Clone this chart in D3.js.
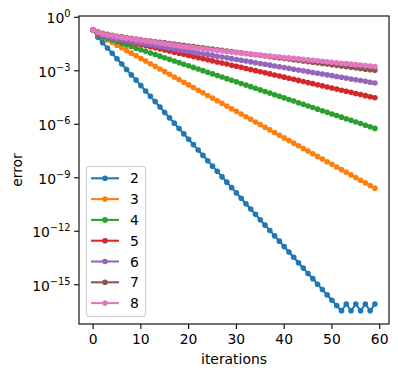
<!DOCTYPE html>
<html>
<head>
<meta charset="utf-8">
<script src="https://cdn.jsdelivr.net/npm/d3@7"></script>
<style>
  body { margin: 0; background: #fff; }
  svg { display: block; }
  text { font-family: "DejaVu Sans", sans-serif; fill: #000; }
</style>
</head>
<body>
<svg class="chart" width="398" height="377"></svg>
<script>
// iteration index 0..59, one error value per iteration for each series
var iterations = d3.range(0, 60);

var seriesNames = ['2', '3', '4', '5', '6', '7', '8'];
var seriesColors = ['#1f77b4', '#ff7f0e', '#2ca02c', '#d62728', '#9467bd', '#8c564b', '#e377c2'];

var error2 = [
  1.95e-1, 7.6e-2, 3.8e-2, 1.9e-2, 9.5e-3, 4.75e-3, 2.4e-3, 1.19e-3, 5.9e-4, 3.0e-4,
  1.48e-4, 7.4e-5, 3.7e-5, 1.86e-5, 9.3e-6, 4.6e-6, 2.3e-6, 1.16e-6, 5.8e-7, 2.9e-7,
  1.45e-7, 7.2e-8, 3.6e-8, 1.8e-8, 9.1e-9, 4.5e-9, 2.3e-9, 1.13e-9, 5.7e-10, 2.8e-10,
  1.42e-10, 7.1e-11, 3.5e-11, 1.77e-11, 8.9e-12, 4.4e-12, 2.2e-12, 1.11e-12, 5.5e-13, 2.8e-13,
  1.38e-13, 6.9e-14, 3.5e-14, 1.73e-14, 8.6e-15, 4.3e-15, 2.2e-15, 1.08e-15, 5.4e-16, 2.7e-16,
  1.35e-16, 6.8e-17, 3.5e-17, 8.3e-17, 3.5e-17, 8.3e-17, 3.5e-17, 8.3e-17, 3.5e-17, 8.3e-17
];

var error3 = [
  1.95e-1, 1.072e-1, 7.62e-2, 5.41e-2, 3.84e-2, 2.73e-2, 1.94e-2, 1.38e-2, 9.79e-3, 6.96e-3,
  4.94e-3, 3.51e-3, 2.49e-3, 1.77e-3, 1.26e-3, 8.94e-4, 6.35e-4, 4.51e-4, 3.20e-4, 2.28e-4,
  1.62e-4, 1.15e-4, 8.16e-5, 5.80e-5, 4.12e-5, 2.93e-5, 2.08e-5, 1.48e-5, 1.05e-5, 7.46e-6,
  5.30e-6, 3.76e-6, 2.67e-6, 1.90e-6, 1.35e-6, 9.59e-7, 6.81e-7, 4.84e-7, 3.44e-7, 2.44e-7,
  1.73e-7, 1.23e-7, 8.75e-8, 6.22e-8, 4.42e-8, 3.14e-8, 2.23e-8, 1.58e-8, 1.12e-8, 7.99e-9,
  5.68e-9, 4.03e-9, 2.86e-9, 2.04e-9, 1.45e-9, 1.03e-9, 7.30e-10, 5.19e-10, 3.68e-10, 2.62e-10
];

var error4 = [
  1.95e-1, 1.12e-1, 7.94e-2, 6.46e-2, 5.25e-2, 4.26e-2, 3.47e-2, 2.82e-2, 2.29e-2, 1.86e-2,
  1.51e-2, 1.23e-2, 1.00e-2, 8.13e-3, 6.61e-3, 5.37e-3, 4.37e-3, 3.55e-3, 2.88e-3, 2.34e-3,
  1.91e-3, 1.55e-3, 1.26e-3, 1.02e-3, 8.32e-4, 6.76e-4, 5.50e-4, 4.47e-4, 3.63e-4, 2.95e-4,
  2.40e-4, 1.95e-4, 1.58e-4, 1.29e-4, 1.05e-4, 8.51e-5, 6.92e-5, 5.62e-5, 4.57e-5, 3.72e-5,
  3.02e-5, 2.45e-5, 2.00e-5, 1.62e-5, 1.32e-5, 1.07e-5, 8.71e-6, 7.08e-6, 5.75e-6, 4.68e-6,
  3.80e-6, 3.09e-6, 2.51e-6, 2.04e-6, 1.66e-6, 1.35e-6, 1.10e-6, 8.91e-7, 7.24e-7, 5.89e-7
];

var error5 = [
  1.95e-1, 1.202e-1, 9.33e-2, 7.94e-2, 6.92e-2, 6.01e-2, 5.22e-2, 4.54e-2, 3.95e-2, 3.43e-2,
  2.98e-2, 2.59e-2, 2.25e-2, 1.96e-2, 1.70e-2, 1.48e-2, 1.28e-2, 1.11e-2, 9.67e-3, 8.40e-3,
  7.30e-3, 6.34e-3, 5.51e-3, 4.79e-3, 4.16e-3, 3.62e-3, 3.14e-3, 2.73e-3, 2.37e-3, 2.06e-3,
  1.79e-3, 1.56e-3, 1.35e-3, 1.18e-3, 1.02e-3, 8.88e-4, 7.72e-4, 6.71e-4, 5.83e-4, 5.07e-4,
  4.40e-4, 3.83e-4, 3.33e-4, 2.89e-4, 2.51e-4, 2.18e-4, 1.90e-4, 1.65e-4, 1.43e-4, 1.24e-4,
  1.08e-4, 9.40e-5, 8.17e-5, 7.10e-5, 6.17e-5, 5.36e-5, 4.66e-5, 4.05e-5, 3.52e-5, 3.06e-5
];

var error6 = [
  1.95e-1, 1.259e-1, 9.55e-2, 7.76e-2, 6.61e-2, 5.95e-2, 5.36e-2, 4.83e-2, 4.35e-2, 3.91e-2,
  3.52e-2, 3.17e-2, 2.86e-2, 2.57e-2, 2.32e-2, 2.09e-2, 1.88e-2, 1.69e-2, 1.52e-2, 1.37e-2,
  1.24e-2, 1.11e-2, 1.00e-2, 9.03e-3, 8.13e-3, 7.32e-3, 6.59e-3, 5.94e-3, 5.35e-3, 4.81e-3,
  4.34e-3, 3.90e-3, 3.52e-3, 3.17e-3, 2.85e-3, 2.57e-3, 2.31e-3, 2.08e-3, 1.87e-3, 1.69e-3,
  1.52e-3, 1.37e-3, 1.23e-3, 1.11e-3, 1.00e-3, 9.00e-4, 8.10e-4, 7.30e-4, 6.57e-4, 5.92e-4,
  5.33e-4, 4.80e-4, 4.32e-4, 3.89e-4, 3.50e-4, 3.15e-4, 2.84e-4, 2.56e-4, 2.30e-4, 2.07e-4
];

var error7 = [
  1.95e-1, 1.514e-1, 1.259e-1, 1.096e-1, 9.77e-2, 8.71e-2, 7.94e-2, 7.24e-2, 6.61e-2, 6.03e-2,
  5.50e-2, 5.01e-2, 4.68e-2, 4.27e-2, 3.98e-2, 3.67e-2, 3.39e-2, 3.13e-2, 2.88e-2, 2.66e-2,
  2.45e-2, 2.26e-2, 2.09e-2, 1.93e-2, 1.78e-2, 1.64e-2, 1.51e-2, 1.40e-2, 1.29e-2, 1.19e-2,
  1.096e-2, 1.012e-2, 9.33e-3, 8.61e-3, 7.94e-3, 7.33e-3, 6.76e-3, 6.24e-3, 5.75e-3, 5.31e-3,
  4.90e-3, 4.52e-3, 4.17e-3, 3.85e-3, 3.55e-3, 3.27e-3, 3.02e-3, 2.79e-3, 2.57e-3, 2.37e-3,
  2.19e-3, 2.02e-3, 1.86e-3, 1.72e-3, 1.58e-3, 1.46e-3, 1.35e-3, 1.24e-3, 1.15e-3, 1.06e-3
];

var error8 = [
  1.95e-1, 1.445e-1, 1.175e-1, 1.023e-1, 9.12e-2, 8.13e-2, 7.41e-2, 6.76e-2, 6.17e-2, 5.62e-2,
  5.13e-2, 4.68e-2, 4.27e-2, 3.98e-2, 3.63e-2, 3.31e-2, 3.02e-2, 2.75e-2, 2.51e-2, 2.29e-2,
  2.14e-2, 2.00e-2, 1.82e-2, 1.70e-2, 1.58e-2, 1.48e-2, 1.38e-2, 1.29e-2, 1.20e-2, 1.12e-2,
  1.047e-2, 9.84e-3, 9.25e-3, 8.69e-3, 8.17e-3, 7.67e-3, 7.21e-3, 6.78e-3, 6.37e-3, 5.98e-3,
  5.62e-3, 5.28e-3, 4.97e-3, 4.67e-3, 4.39e-3, 4.12e-3, 3.87e-3, 3.64e-3, 3.42e-3, 3.21e-3,
  3.02e-3, 2.84e-3, 2.67e-3, 2.51e-3, 2.36e-3, 2.21e-3, 2.08e-3, 1.95e-3, 1.84e-3, 1.73e-3
];

var allErrors = [error2, error3, error4, error5, error6, error7, error8];

var xTicks = [0, 10, 20, 30, 40, 50, 60];
var yTickExponents = [0, -3, -6, -9, -12, -15];

main();

function main() {
  var svg = d3.select('svg.chart');

  var left = 79, right = 389, top = 16, bottom = 324;
  var fontSize = 13.9;
  var markerRadius = 2.8;

  // matplotlib pads the data range by 5% on each side (in log space for y)
  var x = d3.scaleLinear()
    .domain([-2.95, 61.95])
    .range([left, right]);

  var y = d3.scaleLog()
    .domain([Math.pow(10, -17.2), Math.pow(10, 0.073)])
    .range([bottom, top]);

  var lineGenerator = d3.line()
    .x(function(d) { return x(d[0]); })
    .y(function(d) { return y(d[1]); });

  var plot = svg.append('g').attr('class', 'plot');

  allErrors.forEach(function(errors, idx) {
    var points = iterations.map(function(it, i) {
      return [it, errors[i]];
    });

    var group = plot.append('g').attr('class', 'series-' + seriesNames[idx]);

    group.append('path')
      .attr('d', lineGenerator(points))
      .attr('fill', 'none')
      .attr('stroke', seriesColors[idx])
      .attr('stroke-width', 2.08)
      .attr('stroke-linejoin', 'round')
      .attr('stroke-linecap', 'square');

    group.selectAll('circle')
      .data(points)
      .enter().append('circle')
      .attr('cx', function(d) { return x(d[0]); })
      .attr('cy', function(d) { return y(d[1]); })
      .attr('r', markerRadius)
      .attr('fill', seriesColors[idx]);
  });

  // spines
  svg.append('rect')
    .attr('x', left)
    .attr('y', top)
    .attr('width', right - left)
    .attr('height', bottom - top)
    .attr('fill', 'none')
    .attr('stroke', '#000')
    .attr('stroke-width', 1.1);

  // x axis ticks and labels
  var xAxis = svg.append('g').attr('class', 'x-axis');
  xTicks.forEach(function(t) {
    xAxis.append('line')
      .attr('x1', x(t)).attr('x2', x(t))
      .attr('y1', bottom).attr('y2', bottom + 4.9)
      .attr('stroke', '#000')
      .attr('stroke-width', 1.1);
    xAxis.append('text')
      .attr('x', x(t))
      .attr('y', bottom + 19.5)
      .attr('text-anchor', 'middle')
      .style('font-size', fontSize + 'px')
      .text(t);
  });

  // y axis ticks and 10^n labels
  var yAxis = svg.append('g').attr('class', 'y-axis');
  yTickExponents.forEach(function(e) {
    var ty = y(Math.pow(10, e));
    yAxis.append('line')
      .attr('x1', left - 4.9).attr('x2', left)
      .attr('y1', ty).attr('y2', ty)
      .attr('stroke', '#000')
      .attr('stroke-width', 1.1);
    var label = yAxis.append('text')
      .attr('x', left - 8.5)
      .attr('y', ty + 6)
      .attr('text-anchor', 'end')
      .style('font-size', fontSize + 'px');
    label.append('tspan').text('10');
    label.append('tspan')
      .attr('dy', -6)
      .style('font-size', '9.8px')
      .text(e === 0 ? '0' : '\u2212' + Math.abs(e));
  });

  // axis titles
  svg.append('text')
    .attr('x', (left + right) / 2)
    .attr('y', 364)
    .attr('text-anchor', 'middle')
    .style('font-size', fontSize + 'px')
    .text('iterations');

  svg.append('text')
    .attr('transform', 'translate(22,' + ((top + bottom) / 2) + ') rotate(-90)')
    .attr('text-anchor', 'middle')
    .style('font-size', fontSize + 'px')
    .text('error');

  // legend in the lower left corner
  var legend = svg.append('g').attr('class', 'legend');
  legend.append('rect')
    .attr('x', 86.5)
    .attr('y', 166.5)
    .attr('width', 59)
    .attr('height', 150)
    .attr('rx', 2.8)
    .attr('fill', 'rgba(255,255,255,0.8)')
    .attr('stroke', '#cccccc')
    .attr('stroke-width', 1.1);

  seriesNames.forEach(function(name, idx) {
    var rowY = 178.3 + idx * 20.8;
    legend.append('line')
      .attr('x1', 91).attr('x2', 119)
      .attr('y1', rowY).attr('y2', rowY)
      .attr('stroke', seriesColors[idx])
      .attr('stroke-width', 2.08);
    legend.append('circle')
      .attr('cx', 105)
      .attr('cy', rowY)
      .attr('r', markerRadius)
      .attr('fill', seriesColors[idx]);
    legend.append('text')
      .attr('x', 130)
      .attr('y', rowY + 5)
      .style('font-size', fontSize + 'px')
      .text(name);
  });
}
</script>
</body>
</html>
